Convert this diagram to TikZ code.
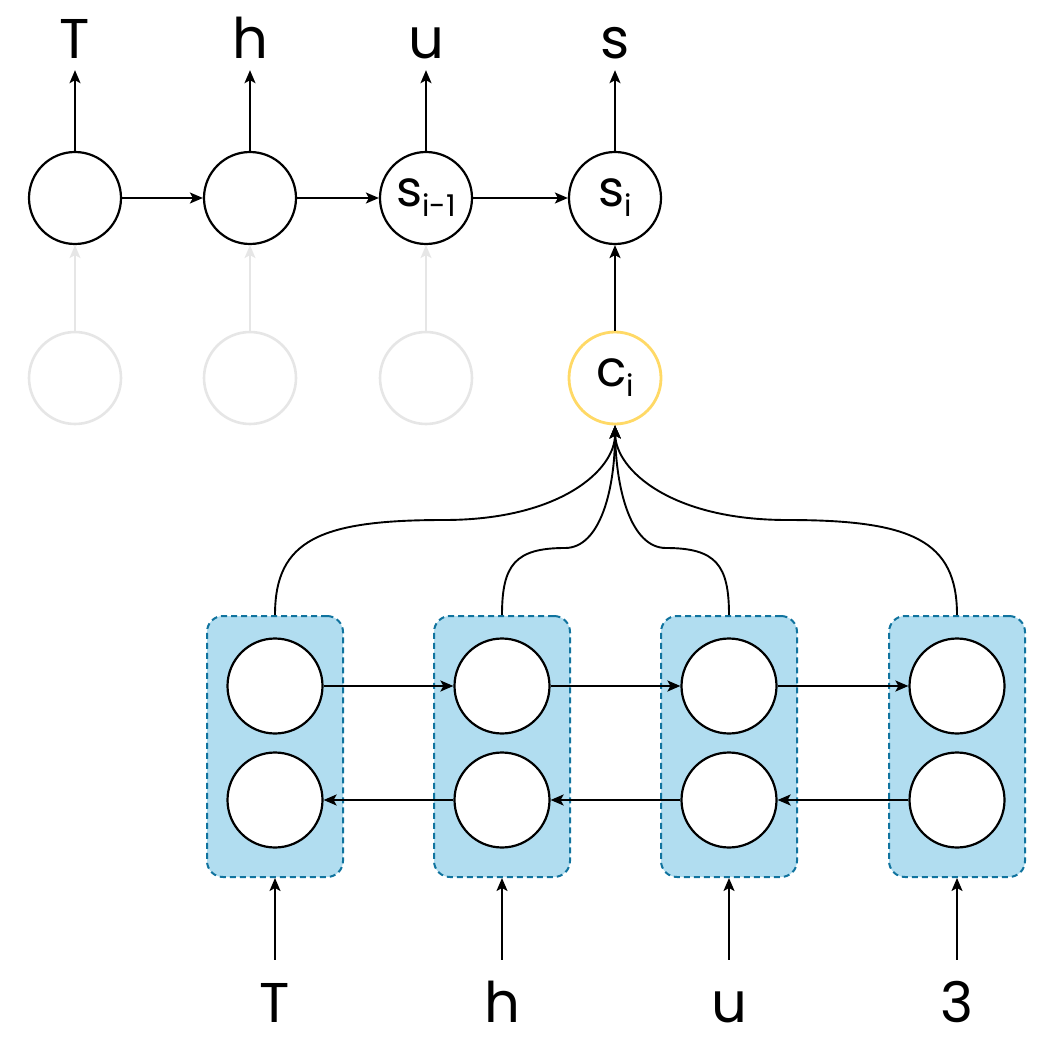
\documentclass[tikz,border=0pt]{standalone}
\usepackage{fontspec}
\setmainfont{Poppins}
\usetikzlibrary{arrows.meta}
\definecolor{yellowc}{HTML}{FFD966}
\definecolor{bluefill}{HTML}{B1DDF0}
\definecolor{bluestroke}{HTML}{10739E}
\definecolor{lgray}{HTML}{E6E6E6}
\begin{document}
\begin{tikzpicture}[x=1pt,y=-1pt,
  cir/.style={circle,draw,line width=2.2pt,minimum size=92pt,inner sep=0pt,fill=white},
  bcir/.style={circle,draw,line width=2.2pt,minimum size=95pt,inner sep=0pt,fill=white},
  gcir/.style={cir,draw=lgray,line width=2.6pt},
  ycir/.style={cir,draw=yellowc,line width=2.8pt},
  blbox/.style={draw=bluestroke,fill=bluefill,line width=2pt,dash pattern=on 6pt off 4pt,rounded corners=16pt,minimum width=136pt,minimum height=261pt,inner sep=0pt},
  arr/.style={line width=1.9pt,-{Stealth[length=13pt,width=11pt,inset=3pt]}},
  garr/.style={arr,draw=lgray},
  lbl/.style={font=\fontsize{56}{56}\selectfont,inner sep=0pt,text height=41pt,text depth=0pt,anchor=base},
  mid/.style={font=\fontsize{50}{50}\selectfont}
]
\path[use as bounding box] (0,0) rectangle (1056,1048);

% top decoder row
\node[cir] (d1) at (75,198) {};
\node[cir] (d2) at (250,198) {};
\node[cir,mid] (d3) at (426,198) {s\raisebox{-10pt}{\fontsize{30}{30}\selectfont i-1}};
\node[cir,mid] (d4) at (615,198) {s\raisebox{-10pt}{\fontsize{30}{30}\selectfont i}};

% gray inputs
\node[gcir] (g1) at (75,378) {};
\node[gcir] (g2) at (250,378) {};
\node[gcir] (g3) at (426,378) {};

% context
\node[ycir,mid] (ci) at (615,378) {c\raisebox{-10pt}{\fontsize{30}{30}\selectfont i}};

% output labels
\node[lbl] (o1) at (75,59) {T};
\node[lbl] (o2) at (250,59) {h};
\node[lbl] (o3) at (426,59) {u};
\node[lbl] (o4) at (615,59) {s};

\foreach \i in {1,2,3,4} \draw[arr,shorten >=11pt] (d\i.north) -- (o\i.south);
\draw[arr] (d1) -- (d2);
\draw[arr] (d2) -- (d3);
\draw[arr] (d3) -- (d4);
\foreach \i in {1,2,3} \draw[garr] (g\i) -- (d\i);
\draw[arr] (ci) -- (d4);

% encoder boxes
\foreach \i/\x in {1/275,2/502,3/729,4/957}{
  \node[blbox] (B\i) at (\x,746.5) {};
  \node[bcir] (f\i) at (\x,686) {};
  \node[bcir] (r\i) at (\x,800) {};
}
\draw[arr] (f1) -- (f2);
\draw[arr] (f2) -- (f3);
\draw[arr] (f3) -- (f4);
\draw[arr] (r4) -- (r3);
\draw[arr] (r3) -- (r2);
\draw[arr] (r2) -- (r1);

% input labels
\node[lbl] (i1) at (275,1022) {T};
\node[lbl] (i2) at (502,1022) {h};
\node[lbl] (i3) at (729,1022) {u};
\node[lbl] (i4) at (957,1022) {3};
\foreach \i in {1,2,3,4} \draw[arr,shorten <=21pt] (i\i.north) -- (B\i.south);

% attention curves
\draw[arr] (B1.north) .. controls (275,540) and (320,520) .. (444,520) .. controls (560,520) and (615,470) .. (ci.south);
\draw[arr] (B2.north) .. controls (502,565) and (515,548) .. (565,548) .. controls (600,548) and (615,490) .. (ci.south);
\draw[arr] (B3.north) .. controls (729,565) and (716,548) .. (666,548) .. controls (631,548) and (616,490) .. (ci.south);
\draw[arr] (B4.north) .. controls (957,540) and (911,520) .. (787,520) .. controls (671,520) and (616,470) .. (ci.south);
\end{tikzpicture}
\end{document}
